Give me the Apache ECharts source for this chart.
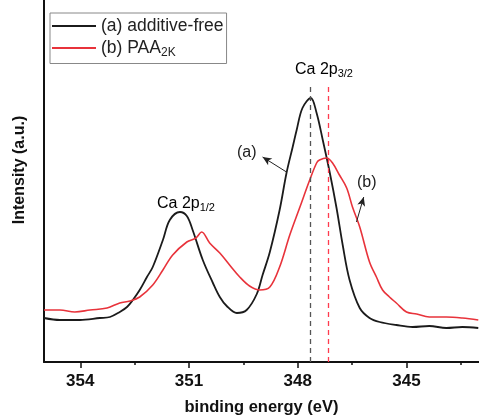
<!DOCTYPE html>
<html>
<head>
<meta charset="utf-8">
<script src="https://cdn.jsdelivr.net/npm/echarts@6/dist/echarts.min.js"></script>
<style>
  html, body { margin: 0; padding: 0; background: #fff; }
  #chart { width: 479px; height: 418px; }
</style>
</head>
<body>
<div id="chart"></div>
<script>
// binding energy (eV) and intensity (a.u.)
const energyA = [355.00, 354.56, 354.01, 353.46, 353.18, 352.91, 352.71, 352.55, 352.36, 352.16,
  352.00, 351.72, 351.53, 351.25, 351.06, 350.90, 350.62, 350.34, 350.15, 349.96,
  349.68, 349.41, 349.13, 348.97, 348.77, 348.50, 348.31, 348.14, 348.03, 347.87,
  347.64, 347.48, 347.31, 347.12, 346.93, 346.76, 346.57, 346.29, 346.02, 345.74,
  345.28, 344.83, 344.37, 343.90, 343.46, 343.02];
const intensityA = [44, 42, 42, 44, 45, 50, 55, 62, 72, 85,
  95, 122, 142, 150, 146, 132, 102, 79, 65, 56,
  49, 52, 68, 87, 110, 152, 189, 215, 232, 254,
  264, 249, 222, 190, 154, 117, 82, 54, 44, 40,
  37, 35, 36, 34, 35, 34];

const energyB = [355.00, 354.56, 354.15, 353.73, 353.26, 352.91, 352.63, 352.36, 352.00, 351.72,
  351.45, 351.06, 350.81, 350.65, 350.43, 350.15, 349.88, 349.60, 349.33, 349.05,
  348.77, 348.50, 348.22, 347.95, 347.67, 347.48, 347.40, 347.20, 347.04, 346.85,
  346.65, 346.49, 346.29, 346.02, 345.83, 345.66, 345.47, 345.28, 345.00, 344.72,
  344.37, 343.90, 343.46, 343.02];
const intensityB = [52, 52, 50, 52, 54, 59, 61, 65, 77, 92,
  107, 120, 124, 130, 119, 109, 97, 85, 76, 72,
  75, 95, 127, 154, 182, 199, 202, 204, 199, 187,
  174, 155, 135, 100, 85, 72, 65, 59, 50, 48,
  45, 45, 44, 42];

const seriesNames = ['(a) additive-free', '(b) PAA2K'];
const majorTicks = [345, 348, 351, 354];
const minorTicks = [343.5, 346.5, 349.5, 352.5];
const peakA = 347.65;
const peakB = 347.17;

const FONT = 'Liberation Sans, Arial, sans-serif';

function pairs(xs, ys) {
  return xs.map((x, i) => [x, ys[i]]);
}

const chart = echarts.init(document.getElementById('chart'));

const subRich = {
  n: { fontSize: 16, fontFamily: FONT, color: '#222' },
  s: { fontSize: 11, fontFamily: FONT, color: '#222', padding: [8, 0, 0, 0] }
};
const legendRich = {
  n: { fontSize: 17.5, fontFamily: FONT, color: '#222' },
  s: { fontSize: 12, fontFamily: FONT, color: '#222', padding: [9, 0, 0, 0] }
};

chart.setOption({
  backgroundColor: '#fff',
  animation: false,
  grid: { left: 44, right: 0, top: 0, bottom: 56, outerBoundsMode: 'none' },
  legend: {
    orient: 'vertical',
    left: 50,
    top: 13,
    icon: 'rect',
    itemWidth: 44,
    itemHeight: 2,
    itemGap: 4,
    borderColor: '#888',
    borderWidth: 1,
    borderRadius: 0,
    padding: [4, 3, 5, 2],
    textStyle: { fontSize: 17.5, fontFamily: FONT, color: '#222', rich: legendRich },
    formatter: name => name === seriesNames[1] ? '{n|(b) PAA}{s|2K}' : '{n|' + name + '}',
    data: seriesNames
  },
  xAxis: [{
    type: 'value',
    min: 343, max: 355,
    inverse: true,
    name: 'binding energy (eV)',
    nameLocation: 'middle',
    nameGap: 37,
    nameTextStyle: { fontSize: 16.5, fontWeight: 'bold', fontFamily: FONT, color: '#111' },
    axisLine: { lineStyle: { color: '#111', width: 2 } },
    axisTick: { length: 6, lineStyle: { color: '#111', width: 1.5 }, customValues: majorTicks },
    axisLabel: { customValues: majorTicks, fontSize: 17, fontWeight: 'bold', fontFamily: FONT, color: '#111', margin: 11 },
    splitLine: { show: false }
  }, {
    type: 'value',
    min: 343, max: 355,
    inverse: true,
    position: 'bottom',
    axisLine: { show: false },
    axisTick: { length: 3, lineStyle: { color: '#111', width: 1.5 }, customValues: minorTicks },
    axisLabel: { show: false },
    splitLine: { show: false }
  }],
  yAxis: {
    type: 'value',
    min: 0, max: 362,
    name: 'Intensity (a.u.)',
    nameLocation: 'middle',
    nameGap: 16,
    nameTextStyle: { fontSize: 16, fontWeight: 'bold', fontFamily: FONT, color: '#111', padding: [0, 0, 0, 22] },
    axisLine: { show: true, lineStyle: { color: '#111', width: 2 } },
    axisTick: { show: false },
    axisLabel: { show: false },
    splitLine: { show: false }
  },
  series: [{
    name: seriesNames[0],
    type: 'line',
    data: pairs(energyA, intensityA),
    showSymbol: false,
    smooth: 0.35,
    lineStyle: { color: '#1b1b1b', width: 1.8 },
    itemStyle: { color: '#1b1b1b' },
    markLine: {
      silent: true,
      label: { show: false },
      data: [
        [{ coord: [peakA, 0], symbol: 'none', lineStyle: { color: '#555', type: [5, 4], width: 1.3 } },
         { coord: [peakA, 276], symbol: 'none' }],
        [{ coord: [348.31, 190], symbol: 'none', lineStyle: { color: '#222', type: 'solid', width: 1 } },
         { coord: [348.97, 205], symbol: 'arrow', symbolSize: [6, 9] }]
      ]
    }
  }, {
    name: seriesNames[1],
    type: 'line',
    data: pairs(energyB, intensityB),
    showSymbol: false,
    smooth: 0.35,
    lineStyle: { color: '#e8333b', width: 1.6 },
    itemStyle: { color: '#e8333b' },
    markLine: {
      silent: true,
      label: { show: false },
      data: [
        [{ coord: [peakB, 0], symbol: 'none', lineStyle: { color: '#ff3b4e', type: [5, 4], width: 1.3 } },
         { coord: [peakB, 276], symbol: 'none' }],
        [{ coord: [346.38, 140], symbol: 'none', lineStyle: { color: '#222', type: 'solid', width: 1 } },
         { coord: [346.18, 165], symbol: 'arrow', symbolSize: [6, 9] }]
      ]
    }
  }],
  graphic: [
    { type: 'text', left: 157, top: 196, style: { text: '{n|Ca 2p}{s|1/2}', rich: subRich } },
    { type: 'text', left: 295, top: 62, style: { text: '{n|Ca 2p}{s|3/2}', rich: subRich } },
    { type: 'text', left: 237, top: 145, style: { text: '(a)', fontSize: 16, fontFamily: FONT, fill: '#222' } },
    { type: 'text', left: 357, top: 175, style: { text: '(b)', fontSize: 16, fontFamily: FONT, fill: '#222' } }
  ]
});
</script>
</body>
</html>
